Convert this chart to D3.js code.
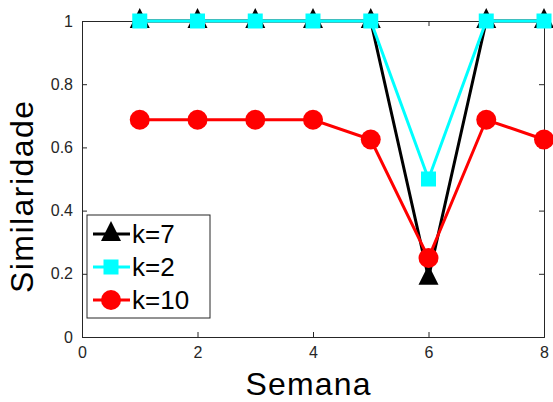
<!DOCTYPE html>
<html lang="pt">
<head>
<meta charset="UTF-8">
<title>Similaridade por semana</title>
<script src="https://d3js.org/d3.v7.min.js"></script>
<style>
  body { margin: 0; background: #fff; }
  svg { display: block; font-family: "Liberation Sans", Arial, sans-serif; }
  .tick text { font-size: 16px; }
</style>
</head>
<body>
<div id="chart"></div>
<script>
// data
const semanas = [1, 2, 3, 4, 5, 6, 7, 8];
const k7 = [1, 1, 1, 1, 1, 0.1875, 1, 1];
const k2 = [1, 1, 1, 1, 1, 0.5, 1, 1];
const k10 = [0.6875, 0.6875, 0.6875, 0.6875, 0.625, 0.25, 0.6875, 0.625];
const xTicks = [0, 2, 4, 6, 8];
const yTicks = [0, 0.2, 0.4, 0.6, 0.8, 1];

const width = 553, height = 402;
const margin = { top: 21, right: 9, bottom: 65, left: 82 };

const svg = d3.select('#chart').append('svg')
    .attr('width', width)
    .attr('height', height);

const x = d3.scaleLinear().domain([0, 8]).range([margin.left, width - margin.right]);
const y = d3.scaleLinear().domain([0, 1]).range([height - margin.bottom, margin.top]);

const axisColor = '#262626';

// axes (box with inward ticks)
const gx = svg.append('g')
    .attr('transform', `translate(0,${y(0)})`)
    .call(d3.axisBottom(x).tickValues(xTicks).tickSize(-5).tickPadding(10).tickFormat(d3.format('d')));
const gxTop = svg.append('g')
    .attr('transform', `translate(0,${y(1)})`)
    .call(d3.axisTop(x).tickValues(xTicks).tickSize(-5).tickFormat(''));
const gy = svg.append('g')
    .attr('transform', `translate(${x(0)},0)`)
    .call(d3.axisLeft(y).tickValues(yTicks).tickSize(-5).tickPadding(9).tickFormat(d => d === 0 || d === 1 ? d3.format('d')(d) : d3.format('.1f')(d)));
const gyRight = svg.append('g')
    .attr('transform', `translate(${x(8)},0)`)
    .call(d3.axisRight(y).tickValues(yTicks).tickSize(-5).tickFormat(''));

[gx, gxTop, gy, gyRight].forEach(g => {
    g.attr('font-size', null).attr('font-family', null);
    g.select('.domain').attr('stroke', axisColor).attr('stroke-width', 1);
    g.selectAll('.tick line').attr('stroke', axisColor);
    g.selectAll('.tick text').attr('fill', axisColor);
});

// axis labels
svg.append('text')
    .attr('x', 308).attr('y', 395)
    .attr('text-anchor', 'middle')
    .style('font-size', '32px')
    .attr('textLength', 125)
    .text('Semana');

svg.append('text')
    .attr('transform', 'translate(33,197) rotate(-90)')
    .attr('text-anchor', 'middle')
    .style('font-size', '32px')
    .attr('textLength', 192)
    .text('Similaridade');

// series
const series = [
    { name: 'k=7', values: k7, color: '#000000', marker: 'triangle' },
    { name: 'k=2', values: k2, color: '#00ffff', marker: 'square' },
    { name: 'k=10', values: k10, color: '#ff0000', marker: 'circle' }
];

function drawMarker(g, type, color) {
    if (type === 'triangle') {
        g.append('path').attr('d', 'M0,-13L10,7L-10,7Z').attr('fill', color);
    } else if (type === 'square') {
        g.append('rect').attr('x', -7.5).attr('y', -7.5).attr('width', 15).attr('height', 15).attr('fill', color);
    } else {
        g.append('circle').attr('r', 10).attr('fill', color);
    }
}

const line = d3.line()
    .x((d, i) => x(semanas[i]))
    .y(d => y(d));

series.forEach(s => {
    svg.append('path')
        .datum(s.values)
        .attr('fill', 'none')
        .attr('stroke', s.color)
        .attr('stroke-width', 3)
        .attr('d', line);
    s.values.forEach((v, i) => {
        const g = svg.append('g').attr('transform', `translate(${x(semanas[i])},${y(v)})`);
        drawMarker(g, s.marker, s.color);
    });
});

// legend
const legend = svg.append('g').attr('transform', 'translate(87,215)');
legend.append('rect')
    .attr('width', 123).attr('height', 103)
    .attr('fill', '#fff').attr('stroke', axisColor).attr('stroke-width', 1);

series.forEach((s, i) => {
    const row = legend.append('g').attr('transform', `translate(0,${19 + i * 33})`);
    row.append('line')
        .attr('x1', 6).attr('x2', 43)
        .attr('stroke', s.color).attr('stroke-width', 3);
    const m = row.append('g').attr('transform', 'translate(24,0)');
    drawMarker(m, s.marker, s.color);
    row.append('text')
        .attr('x', 45).attr('y', 9)
        .style('font-size', '26px')
        .text(s.name);
});
</script>
</body>
</html>
